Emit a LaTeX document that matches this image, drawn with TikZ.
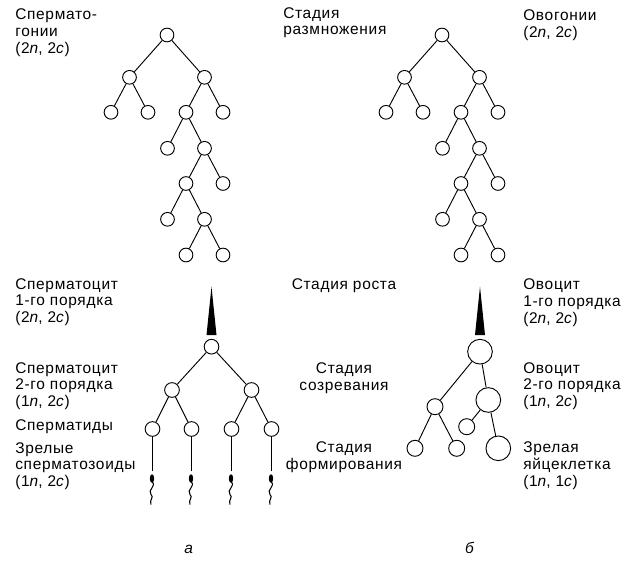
\documentclass[tikz,border=0pt]{standalone}
\usepackage{fontspec}
\setmainfont{Liberation Sans}[LetterSpace=4.5]
\begin{document}
\begin{tikzpicture}[x=0.75pt,y=0.75pt,yscale=-1,xscale=1,
    cell/.style={circle,draw,inner sep=0pt,minimum size=10.3pt,line width=0.7pt},
    midcell/.style={cell,minimum size=12pt},
    bigcell/.style={cell,minimum size=18.5pt},
    label/.style={inner sep=0pt,anchor=base west,align=left,font=\fontsize{11.6}{12.6}\selectfont},
    stage/.style={label,anchor=base,align=center},
    link/.style={line width=0.7pt}]
        \useasboundingbox (0,0) rectangle (633,567);

        %Spermatogonia tree
        \node [cell] (s0) at (167,35) {};
        \node [cell] (s1) at (129.5,77.3) {};
        \node [cell] (s2) at (204.5,77.3) {};
        \node [cell] (s3) at (111,112.3) {};
        \node [cell] (s4) at (148,112.3) {};
        \node [cell] (s5) at (186,112.3) {};
        \node [cell] (s6) at (223,112.3) {};
        \node [cell] (s7) at (167.5,148.3) {};
        \node [cell] (s8) at (204.5,148.3) {};
        \node [cell] (s9) at (186,183.5) {};
        \node [cell] (s10) at (223,183.5) {};
        \node [cell] (s11) at (167.5,219.3) {};
        \node [cell] (s12) at (204.5,219.3) {};
        \node [cell] (s13) at (186,255) {};
        \node [cell] (s14) at (223,255) {};
        \draw [link] (s0) -- (s1) (s0) -- (s2) (s1) -- (s3) (s1) -- (s4) (s2) -- (s5) (s2) -- (s6)
            (s5) -- (s7) (s5) -- (s8) (s8) -- (s9) (s8) -- (s10) (s9) -- (s11) (s9) -- (s12)
            (s12) -- (s13) (s12) -- (s14) ;

        %Oogonia tree
        \node [cell] (g0) at (442,35) {};
        \node [cell] (g1) at (404.5,77.3) {};
        \node [cell] (g2) at (479.5,77.3) {};
        \node [cell] (g3) at (386,112.3) {};
        \node [cell] (g4) at (423,112.3) {};
        \node [cell] (g5) at (461,112.3) {};
        \node [cell] (g6) at (498,112.3) {};
        \node [cell] (g7) at (442.5,148.3) {};
        \node [cell] (g8) at (479.5,148.3) {};
        \node [cell] (g9) at (461,183.5) {};
        \node [cell] (g10) at (498,183.5) {};
        \node [cell] (g11) at (442.5,219.3) {};
        \node [cell] (g12) at (479.5,219.3) {};
        \node [cell] (g13) at (461,255) {};
        \node [cell] (g14) at (498,255) {};
        \draw [link] (g0) -- (g1) (g0) -- (g2) (g1) -- (g3) (g1) -- (g4) (g2) -- (g5) (g2) -- (g6)
            (g5) -- (g7) (g5) -- (g8) (g8) -- (g9) (g8) -- (g10) (g9) -- (g11) (g9) -- (g12)
            (g12) -- (g13) (g12) -- (g14) ;

        %Growth spikes
        \fill (206.5,335) -- (211.5,286.7) -- (216.5,335) -- cycle ;
        \fill (475,335) -- (480,286.7) -- (485,335) -- cycle ;

        %Spermatocytes and spermatids
        \node [cell,minimum size=11pt] (a0) at (211.5,346.7) {};
        \node [cell,minimum size=11pt] (a1) at (172,390) {};
        \node [cell,minimum size=11pt] (a2) at (251.5,390) {};
        \node [cell,minimum size=11pt] (a3) at (152.5,429) {};
        \node [cell,minimum size=11pt] (a4) at (191.5,429) {};
        \node [cell,minimum size=11pt] (a5) at (231.5,429) {};
        \node [cell,minimum size=11pt] (a6) at (271.5,429) {};
        \draw [link] (a0) -- (a1) (a0) -- (a2) (a1) -- (a3) (a1) -- (a4) (a2) -- (a5) (a2) -- (a6) ;
        \coordinate (h3) at (152.5,471) ;
        \coordinate (h4) at (191.5,471) ;
        \coordinate (h5) at (231.5,471) ;
        \coordinate (h6) at (271.5,471) ;
        \draw [link] (a3) -- (h3) (a4) -- (h4) (a5) -- (h5) (a6) -- (h6) ;

        %Spermatozoa
        \fill [shift={(152,478.5)}] (0,0) ellipse (2.2 and 4.2) ;
        \draw [shift={(152,478.5)},line width=0.8pt] (0,3) .. controls (5,8) and (-5,11) .. (-1,16) .. controls (2.5,19) and (-3,21) .. (-1,26) ;
        \fill [shift={(191,478.5)}] (0,0) ellipse (2.2 and 4.2) ;
        \draw [shift={(191,478.5)},line width=0.8pt] (0,3) .. controls (5,8) and (-5,11) .. (-1,16) .. controls (2.5,19) and (-3,21) .. (-1,26) ;
        \fill [shift={(231,478.5)}] (0,0) ellipse (2.2 and 4.2) ;
        \draw [shift={(231,478.5)},line width=0.8pt] (0,3) .. controls (5,8) and (-5,11) .. (-1,16) .. controls (2.5,19) and (-3,21) .. (-1,26) ;
        \fill [shift={(271,478.5)}] (0,0) ellipse (2.2 and 4.2) ;
        \draw [shift={(271,478.5)},line width=0.8pt] (0,3) .. controls (5,8) and (-5,11) .. (-1,16) .. controls (2.5,19) and (-3,21) .. (-1,26) ;

        %Oocytes
        \node [bigcell] (b0) at (480,351.7) {};
        \node [midcell] (b1) at (435,406.7) {};
        \node [bigcell] (b2) at (488.3,400) {};
        \node [midcell] (b3) at (415,448.3) {};
        \node [midcell] (b4) at (456.7,448.3) {};
        \node [midcell] (b5) at (466.7,426.7) {};
        \node [bigcell] (b6) at (498.3,448.3) {};
        \draw [link] (b0) -- (b1) (b0) -- (b2) (b1) -- (b3) (b1) -- (b4) (b2) -- (b5) (b2) -- (b6) ;

        % Text Node
        \node [label] (spg) at (15,53.5) {Спермато-\\гонии\\(2\textit{n}, 2\textit{c})};
        % Text Node
        \node [label] (spc1) at (15,322.7) {Сперматоцит\\1-го порядка\\(2\textit{n}, 2\textit{c})};
        % Text Node
        \node [label] (spc2) at (15,406.7) {Сперматоцит\\2-го порядка\\(1\textit{n}, 2\textit{c})};
        % Text Node
        \node [label] (spt) at (15,430) {Сперматиды};
        % Text Node
        \node [label] (spz) at (15,486.7) {Зрелые\\сперматозоиды\\(1\textit{n}, 2\textit{c})};
        % Text Node
        \node [label] (st1) at (283,35) {Стадия\\размножения};
        % Text Node
        \node [stage] (st2) at (344,290) {Стадия роста};
        % Text Node
        \node [stage] (st3) at (344,390) {Стадия\\созревания};
        % Text Node
        \node [stage] (st4) at (344,469) {Стадия\\формирования};
        % Text Node
        \node [label] (oog) at (523,37.3) {Овогонии\\(2\textit{n}, 2\textit{c})};
        % Text Node
        \node [label] (ooc1) at (523,323.3) {Овоцит\\1-го порядка\\(2\textit{n}, 2\textit{c})};
        % Text Node
        \node [label] (ooc2) at (523,406.7) {Овоцит\\2-го порядка\\(1\textit{n}, 2\textit{c})};
        % Text Node
        \node [label] (egg) at (523,486) {Зрелая\\яйцеклетка\\(1\textit{n}, 1\textit{c})};
        % Text Node
        \node [stage] (capa) at (189,553) {\textit{а}};
        % Text Node
        \node [stage] (capb) at (470,553) {\textit{б}};

\end{tikzpicture}
\end{document}
